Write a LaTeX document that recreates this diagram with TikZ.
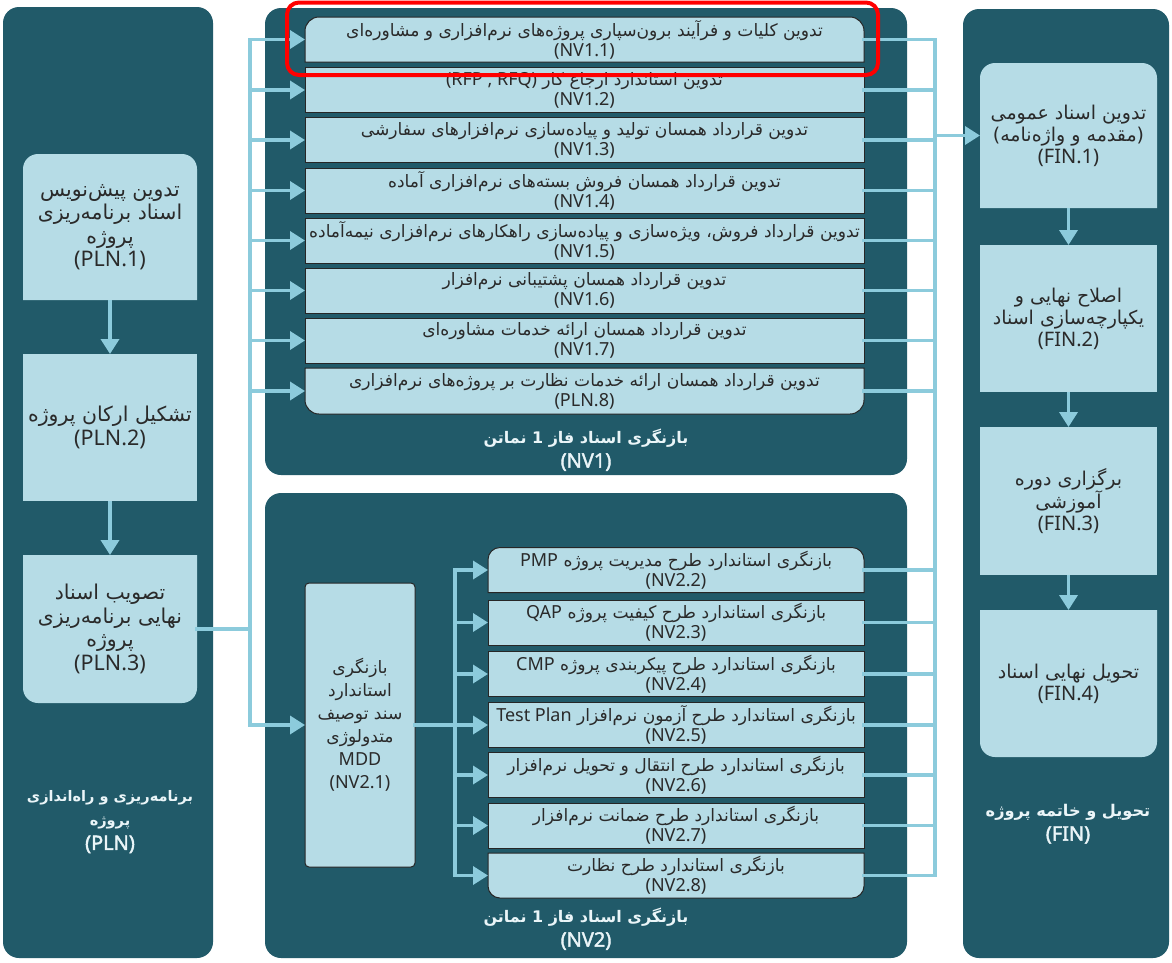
\documentclass[tikz,border=0pt]{standalone}
\usepackage{fontspec}
\setmainfont{Noto Sans}[BoldFont={Noto Sans}, BoldFeatures={FakeBold=2}]
\newfontfamily\fa[Script=Arabic,Scale=0.95]{DejaVu Sans}
\TeXXeTstate=1
\usetikzlibrary{arrows.meta,calc}
\definecolor{panelc}{HTML}{215A69}
\definecolor{boxc}{HTML}{B6DCE6}
\definecolor{linec}{HTML}{8CCBDC}
\definecolor{txtc}{HTML}{2A2A2A}
\definecolor{lblc}{HTML}{EAF5F8}
\newcommand\RL[1]{{\fa\beginR #1\endR}}
\newcommand\RLb[2]{{\fontsize{#1}{24}\selectfont\fa\beginR #2\endR}}
\newcommand\LT[1]{\beginL{\rmfamily #1}\endL}
\newcommand\ShapeTop[3]{\path[#3] ([yshift=-#2]#1.north west) arc[start angle=180,end angle=90,radius=#2] -- ([xshift=-#2]#1.north east) arc[start angle=90,end angle=0,radius=#2] -- (#1.south east) -- (#1.south west) -- cycle;}
\newcommand\ShapeBot[3]{\path[#3] (#1.north west) -- (#1.north east) -- ([yshift=#2]#1.south east) arc[start angle=0,end angle=-90,radius=#2] -- ([xshift=#2]#1.south west) arc[start angle=270,end angle=180,radius=#2] -- cycle;}
\newcommand\ShapeSq[2]{\path[#2] (#1.north west) rectangle (#1.south east);}
\pgfdeclarelayer{bg}
\pgfdeclarelayer{panels}
\pgfdeclarelayer{shapes}
\pgfsetlayers{bg,panels,shapes,main}
\begin{document}
\begin{tikzpicture}[x=1pt,y=1pt,
  panelbox/.style={fill=panelc, rounded corners=16pt, inner sep=0pt, outer sep=0pt},
  bx/.style={inner sep=0pt, outer sep=0pt, align=center, text=txtc, font=\fontsize{18}{20}\selectfont},
  bigbx/.style={bx, font=\fontsize{21.5}{23.5}\selectfont},
  finbx/.style={bx, font=\fontsize{20}{22}\selectfont},
  lbl/.style={align=center, text=lblc, font=\bfseries\fontsize{20}{24}\selectfont},
  wire/.style={draw=linec, line width=3.5pt, line cap=rect},
  arr/.style={draw=linec, line width=3.5pt, -{Triangle[width=18pt,length=15pt]}},
  nvfill/.style={fill=boxc, draw=black!85, line width=1pt},
  plfill/.style={fill=boxc}]
\begin{pgfonlayer}{bg}
\fill[white] (0,0) rectangle (1172,-962);
\end{pgfonlayer}
\useasboundingbox (0,0) rectangle (1172,-962);

% panels
\begin{pgfonlayer}{panels}
\node[panelbox, minimum width=210pt, minimum height=951pt] (plnP) at (108,-482.5) {};
\node[panelbox, minimum width=642pt, minimum height=467pt] (nv1P) at (586,-241.5) {};
\node[panelbox, minimum width=642pt, minimum height=465pt] (nv2P) at (586,-725.5) {};
\node[panelbox, minimum width=206pt, minimum height=949pt] (finP) at (1066,-483.5) {};
\end{pgfonlayer}

% panel labels
\node[lbl] (plnL) at (110,-822) {\RLb{15.3}{برنامه‌ریزی و راه‌اندازی}\\\RLb{15.3}{پروژه}\\(PLN)};
\node[lbl] (nv1L) at (586,-450) {\RLb{16.8}{بازنگری اسناد فاز 1 نماتن}\\(NV1)};
\node[lbl] (nv2L) at (586,-929) {\RLb{16.8}{بازنگری اسناد فاز 1 نماتن}\\(NV2)};
\node[lbl] (finL) at (1068,-824) {\RLb{17}{تحویل و خاتمه پروژه}\\(FIN)};

% PLN boxes
\node[bigbx, minimum width=174pt, minimum height=146pt] (pln1) at (110,-227) {\RL{تدوین پیش‌نویس}\\\RL{اسناد برنامه‌ریزی}\\\RL{پروژه}\\(PLN.1)};
\node[bigbx, minimum width=174pt, minimum height=147pt] (pln2) at (110,-427.5) {\RL{تشکیل ارکان پروژه}\\(PLN.2)};
\node[bigbx, minimum width=174pt, minimum height=148pt] (pln3) at (110,-629) {\RL{تصویب اسناد}\\\RL{نهایی برنامه‌ریزی}\\\RL{پروژه}\\(PLN.3)};

% FIN boxes
\node[finbx, minimum width=177pt, minimum height=145pt] (fin1) at (1068.5,-135.5) {\RL{تدوین اسناد عمومی}\\\RL{(مقدمه و واژه‌نامه)}\\(FIN.1)};
\node[finbx, minimum width=177pt, minimum height=147pt] (fin2) at (1068.5,-318.5) {\RL{اصلاح نهایی و}\\\RL{یکپارچه‌سازی اسناد}\\(FIN.2)};
\node[finbx, minimum width=177pt, minimum height=148pt] (fin3) at (1068.5,-501) {\RL{برگزاری دوره}\\\RL{آموزشی}\\(FIN.3)};
\node[finbx, minimum width=177pt, minimum height=147pt] (fin4) at (1068.5,-683.5) {\RL{تحویل نهایی اسناد}\\(FIN.4)};

% NV1 rows
\node[bx, minimum width=559pt, minimum height=45pt] (nv11) at (584.5,-39.5) {\RL{تدوین کلیات و فرآیند برون‌سپاری پروژه‌های نرم‌افزاری و مشاوره‌ای}\\(NV1.1)};
\node[bx, minimum width=559pt, minimum height=45pt] (nv12) at (584.5,-90) {\RL{تدوین استاندارد ارجاع کار \LT{(RFP , RFQ)}}\\(NV1.2)};
\node[bx, minimum width=559pt, minimum height=45pt] (nv13) at (584.5,-140) {\RL{تدوین قرارداد همسان تولید و پیاده‌سازی نرم‌افزارهای سفارشی}\\(NV1.3)};
\node[bx, minimum width=559pt, minimum height=45pt] (nv14) at (584.5,-190.5) {\RL{تدوین قرارداد همسان فروش بسته‌های نرم‌افزاری آماده}\\(NV1.4)};
\node[bx, minimum width=559pt, minimum height=45pt] (nv15) at (584.5,-240.5) {\RL{تدوین قرارداد فروش، ویژه‌سازی و پیاده‌سازی راهکارهای نرم‌افزاری نیمه‌آماده}\\(NV1.5)};
\node[bx, minimum width=559pt, minimum height=45pt] (nv16) at (584.5,-290.5) {\RL{تدوین قرارداد همسان پشتیبانی نرم‌افزار}\\(NV1.6)};
\node[bx, minimum width=559pt, minimum height=45pt] (nv17) at (584.5,-340.5) {\RL{تدوین قرارداد همسان ارائه خدمات مشاوره‌ای}\\(NV1.7)};
\node[bx, minimum width=559pt, minimum height=46pt] (nv18) at (584.5,-391) {\RL{تدوین قرارداد همسان ارائه خدمات نظارت بر پروژه‌های نرم‌افزاری}\\(PLN.8)};

% NV2 boxes
\node[bx, minimum width=110pt, minimum height=284pt, font=\fontsize{18}{23}\selectfont] (nv21) at (360,-725) {\RL{بازنگری}\\\RL{استاندارد}\\\RL{سند توصیف}\\\RL{متدولوژی}\\MDD\\(NV2.1)};
\node[bx, minimum width=376pt, minimum height=45pt] (nv22) at (676,-570) {\RL{بازنگری استاندارد طرح مدیریت پروژه \LT{PMP}}\\(NV2.2)};
\node[bx, minimum width=376pt, minimum height=45pt] (nv23) at (676,-622.5) {\RL{بازنگری استاندارد طرح کیفیت پروژه \LT{QAP}}\\(NV2.3)};
\node[bx, minimum width=376pt, minimum height=45pt] (nv24) at (676,-674) {\RL{بازنگری استاندارد طرح پیکربندی پروژه \LT{CMP}}\\(NV2.4)};
\node[bx, minimum width=376pt, minimum height=45pt] (nv25) at (676,-725) {\RL{بازنگری استاندارد طرح آزمون نرم‌افزار \LT{Test Plan}}\\(NV2.5)};
\node[bx, minimum width=376pt, minimum height=45pt] (nv26) at (676,-775) {\RL{بازنگری استاندارد طرح انتقال و تحویل نرم‌افزار}\\(NV2.6)};
\node[bx, minimum width=376pt, minimum height=45pt] (nv27) at (676,-825.5) {\RL{بازنگری استاندارد طرح ضمانت نرم‌افزار}\\(NV2.7)};
\node[bx, minimum width=376pt, minimum height=45pt] (nv28) at (676,-875.5) {\RL{بازنگری استاندارد طرح نظارت}\\(NV2.8)};

% box shapes
\begin{pgfonlayer}{shapes}
\ShapeTop{pln1}{15pt}{plfill}
\ShapeSq{pln2}{plfill}
\ShapeBot{pln3}{15pt}{plfill}
\ShapeTop{fin1}{15pt}{plfill}
\ShapeSq{fin2}{plfill}
\ShapeSq{fin3}{plfill}
\ShapeBot{fin4}{15pt}{plfill}
\ShapeTop{nv11}{14pt}{nvfill}
\ShapeSq{nv12}{nvfill}
\ShapeSq{nv13}{nvfill}
\ShapeSq{nv14}{nvfill}
\ShapeSq{nv15}{nvfill}
\ShapeSq{nv16}{nvfill}
\ShapeSq{nv17}{nvfill}
\ShapeBot{nv18}{14pt}{nvfill}
\path[nvfill, rounded corners=4pt] (nv21.north west) rectangle (nv21.south east);
\ShapeTop{nv22}{12pt}{nvfill}
\ShapeSq{nv23}{nvfill}
\ShapeSq{nv24}{nvfill}
\ShapeSq{nv25}{nvfill}
\ShapeSq{nv26}{nvfill}
\ShapeSq{nv27}{nvfill}
\ShapeBot{nv28}{12pt}{nvfill}
\end{pgfonlayer}

% buses
\coordinate (lt) at (250,-39.5);
\coordinate (lb) at (250,-725);
\coordinate (rt) at (935,-39.5);
\coordinate (rb) at (935,-875.5);
\coordinate (mt) at (455,-570);
\coordinate (mb) at (455,-875.5);

% PLN chain
\draw[arr] (pln1.south) -- (pln2.north);
\draw[arr] (pln2.south) -- (pln3.north);
\draw[wire] (pln3.east) -- (pln3.east -| lt);
\draw[wire] (lt) -- (lb);
\foreach \n in {nv11,nv12,nv13,nv14,nv15,nv16,nv17,nv18,nv21}
  \draw[arr] (\n.west -| lt) -- (\n.west);

% NV2 internal
\draw[wire] (nv21.east) -- (nv21.east -| mt);
\draw[wire] (mt) -- (mb);
\foreach \n in {nv22,nv23,nv24,nv25,nv26,nv27,nv28}
  \draw[arr] (\n.west -| mt) -- (\n.west);

% right bus
\draw[wire] (rt) -- (rb);
\foreach \n in {nv11,nv12,nv13,nv14,nv15,nv16,nv17,nv18,nv22,nv23,nv24,nv25,nv26,nv27,nv28}
  \draw[wire] (\n.east) -- (\n.east -| rt);
\draw[arr] (fin1.west -| rt) -- (fin1.west);

% FIN chain
\draw[arr] (fin1.south) -- (fin2.north);
\draw[arr] (fin2.south) -- (fin3.north);
\draw[arr] (fin3.south) -- (fin4.north);

% highlight
\draw[red, line width=4pt, rounded corners=12pt] (287,-2.5) rectangle (878,-75);
\end{tikzpicture}
\end{document}
